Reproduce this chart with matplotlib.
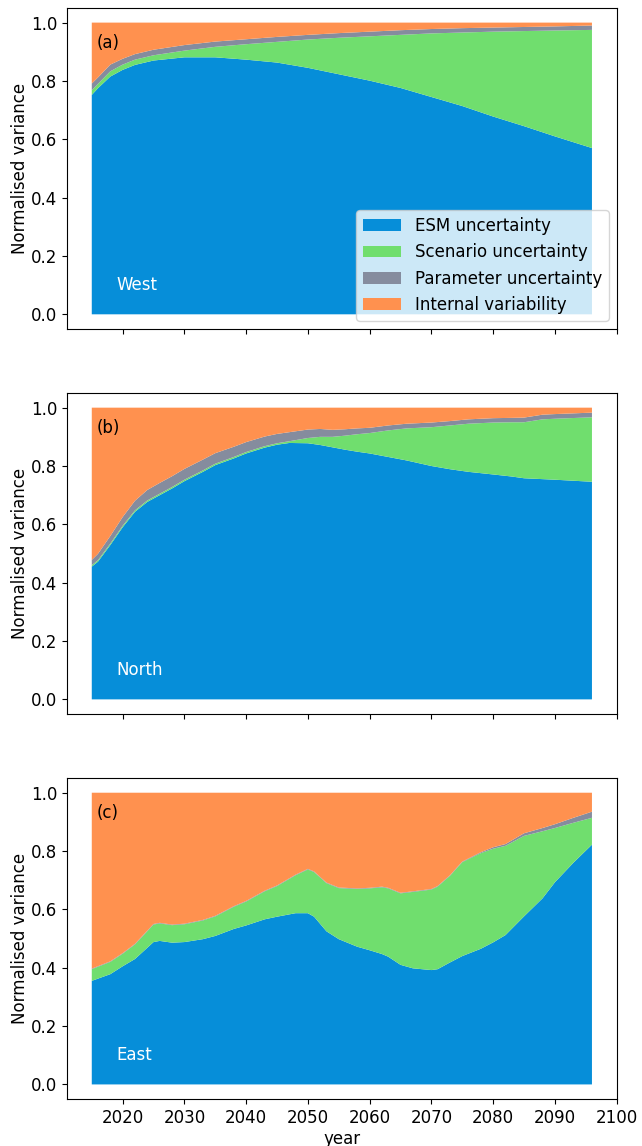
import matplotlib
matplotlib.use('Agg')
import matplotlib.pyplot as plt
import numpy as np

### Farben / Labels ###
colors = ['#068ED9', '#70DE6E', '#858C9E', '#FF914F']
labels = ['ESM uncertainty', 'Scenario uncertainty', 'Parameter uncertainty', 'Internal variability']

### (a) West ###
years_w = [2015, 2016, 2018, 2020, 2022, 2025, 2030, 2035, 2040, 2045, 2050,
           2055, 2060, 2065, 2070, 2075, 2080, 2085, 2090, 2096]
esm_w = [0.752, 0.775, 0.815, 0.838, 0.855, 0.870, 0.881, 0.881, 0.873, 0.863, 0.845,
         0.823, 0.801, 0.776, 0.745, 0.714, 0.678, 0.645, 0.610, 0.570]
scen_w = [0.016, 0.015, 0.018, 0.018, 0.018, 0.018, 0.023, 0.036, 0.053, 0.071, 0.097,
          0.125, 0.152, 0.182, 0.218, 0.252, 0.291, 0.326, 0.363, 0.405]
param_w = [0.023, 0.022, 0.023, 0.020, 0.019, 0.019, 0.019, 0.018, 0.017, 0.017, 0.016,
           0.016, 0.016, 0.016, 0.015, 0.015, 0.014, 0.014, 0.014, 0.015]
intvar_w = [0.209, 0.188, 0.144, 0.124, 0.108, 0.093, 0.077, 0.065, 0.057, 0.049, 0.042,
            0.036, 0.031, 0.026, 0.022, 0.019, 0.017, 0.015, 0.013, 0.010]

### (b) North ###
years_n = [2015, 2016, 2018, 2020, 2022, 2024, 2026, 2028, 2030, 2033, 2035, 2038, 2040,
           2043, 2045, 2047, 2050, 2052, 2054, 2056, 2058, 2060, 2063, 2066, 2070, 2073,
           2076, 2080, 2083, 2085, 2088, 2090, 2096]
esm_n = [0.455, 0.472, 0.529, 0.590, 0.643, 0.677, 0.700, 0.723, 0.748, 0.780, 0.803, 0.826, 0.843,
         0.863, 0.873, 0.879, 0.878, 0.872, 0.864, 0.856, 0.849, 0.843, 0.831, 0.819, 0.800, 0.789,
         0.780, 0.771, 0.764, 0.758, 0.755, 0.753, 0.746]
scen_n = [0.005, 0.005, 0.005, 0.005, 0.005, 0.005, 0.005, 0.005, 0.005, 0.005, 0.005, 0.005, 0.005,
          0.005, 0.005, 0.006, 0.018, 0.028, 0.036, 0.048, 0.060, 0.070, 0.091, 0.110, 0.133, 0.150,
          0.165, 0.178, 0.186, 0.192, 0.205, 0.209, 0.221]
param_n = [0.018, 0.022, 0.026, 0.030, 0.033, 0.036, 0.037, 0.037, 0.037, 0.037, 0.036, 0.035, 0.034,
           0.033, 0.032, 0.031, 0.029, 0.027, 0.024, 0.022, 0.020, 0.018, 0.017, 0.016, 0.016, 0.015,
           0.015, 0.015, 0.015, 0.016, 0.016, 0.016, 0.016]
intvar_n = [0.522, 0.501, 0.440, 0.375, 0.319, 0.282, 0.258, 0.235, 0.210, 0.178, 0.156, 0.134, 0.118,
            0.099, 0.090, 0.084, 0.075, 0.073, 0.076, 0.074, 0.071, 0.069, 0.061, 0.055, 0.051, 0.046,
            0.040, 0.036, 0.035, 0.034, 0.024, 0.022, 0.017]

### (c) East ###
years_e = [2015, 2018, 2020, 2022, 2025, 2026, 2028, 2030, 2033, 2035, 2038, 2040, 2043,
           2045, 2048, 2050, 2051, 2053, 2055, 2058, 2060, 2062, 2063, 2065, 2067, 2070,
           2071, 2073, 2075, 2078, 2080, 2082, 2085, 2088, 2090, 2093, 2096]
esm_e = [0.355, 0.378, 0.405, 0.430, 0.488, 0.492, 0.486, 0.488, 0.498, 0.509, 0.533, 0.545, 0.566,
         0.575, 0.587, 0.587, 0.575, 0.525, 0.498, 0.472, 0.460, 0.447, 0.438, 0.410, 0.398, 0.392,
         0.395, 0.418, 0.440, 0.465, 0.487, 0.512, 0.576, 0.638, 0.693, 0.760, 0.822]
scen_e = [0.040, 0.042, 0.043, 0.050, 0.060, 0.060, 0.060, 0.061, 0.064, 0.067, 0.076, 0.082, 0.096,
          0.105, 0.130, 0.150, 0.153, 0.165, 0.175, 0.198, 0.212, 0.229, 0.234, 0.245, 0.262, 0.276,
          0.283, 0.297, 0.322, 0.328, 0.321, 0.306, 0.276, 0.230, 0.186, 0.137, 0.092]
param_e = [0.002, 0.002, 0.002, 0.002, 0.002, 0.002, 0.002, 0.002, 0.002, 0.002, 0.002, 0.002, 0.002,
           0.002, 0.002, 0.002, 0.002, 0.002, 0.002, 0.002, 0.002, 0.002, 0.002, 0.002, 0.002, 0.002,
           0.002, 0.002, 0.002, 0.003, 0.005, 0.006, 0.009, 0.011, 0.013, 0.017, 0.021]
intvar_e = [0.603, 0.578, 0.550, 0.518, 0.450, 0.446, 0.452, 0.449, 0.436, 0.422, 0.389, 0.371, 0.336,
            0.318, 0.281, 0.261, 0.270, 0.308, 0.325, 0.328, 0.326, 0.322, 0.326, 0.343, 0.338, 0.330,
            0.320, 0.283, 0.236, 0.204, 0.187, 0.176, 0.139, 0.121, 0.108, 0.086, 0.065]

panels = [
    ('(a)', 'West', years_w, [esm_w, scen_w, param_w, intvar_w]),
    ('(b)', 'North', years_n, [esm_n, scen_n, param_n, intvar_n]),
    ('(c)', 'East', years_e, [esm_e, scen_e, param_e, intvar_e]),
]

plt.rcParams['font.size'] = 12

fig, axes = plt.subplots(3, 1, figsize=(6.42, 11.46), dpi=100, sharex=True)
fig.subplots_adjust(left=0.104, right=0.961, top=0.993, bottom=0.041, hspace=0.2)

for ax, (tag, region, yrs, comps) in zip(axes, panels):
    ax.stackplot(yrs, *comps, colors=colors, labels=labels)
    ax.set_ylim(-0.05, 1.05)
    ax.set_ylabel('Normalised variance', labelpad=1)
    ax.text(0.055, 0.89, tag, transform=ax.transAxes, va='center', ha='left')
    ax.text(0.091, 0.137, region, transform=ax.transAxes, va='center', ha='left', color='white')

axes[0].legend(loc='lower right', handlelength=2.3)
axes[2].set_xlim(2010.95, 2100.05)
axes[2].set_xlabel('year', labelpad=2)

plt.savefig('out.png', dpi=100)
plt.close()
